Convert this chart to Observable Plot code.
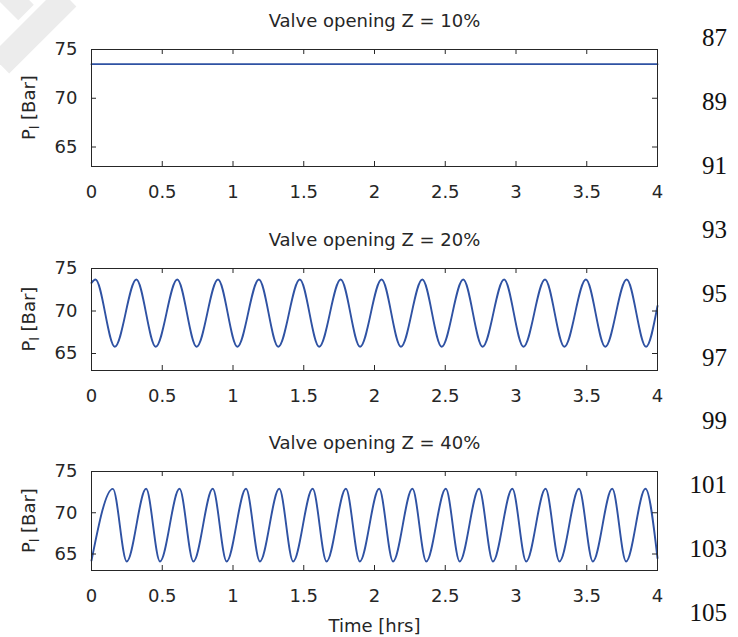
<!DOCTYPE html>
<html><head><meta charset="utf-8">
<script src="https://cdn.jsdelivr.net/npm/d3@7"></script>
<script src="https://cdn.jsdelivr.net/npm/@observablehq/plot@0.6"></script>
<style>
body{margin:0;background:#fff;}
#wrap{position:relative;width:738px;height:637px;overflow:hidden;font-family:"DejaVu Sans",sans-serif;background:#fff;}
.panel{position:absolute;left:0;}
.ln{position:absolute;right:11px;font-family:"Liberation Serif","Times New Roman",serif;font-size:25px;color:#111;line-height:1;transform:translateY(-50%);}
.wm{position:absolute;background:#ececec;transform-origin:0 0;}
</style></head><body><div id="wrap"></div>
<script>
// ---- data ----
const panelTitles = ["Valve opening Z = 10%", "Valve opening Z = 20%", "Valve opening Z = 40%"];
const xTicks = [0, 0.5, 1, 1.5, 2, 2.5, 3, 3.5, 4];
const yTicks = [65, 70, 75];
const xLabel = "Time [hrs]";
const lineNumbers = [87, 89, 91, 93, 95, 97, 99, 101, 103, 105];

// Z = 10%: constant
const z10Time = [0, 4];
const z10P = [73.5, 73.5];

// Z = 20%: extrema times (hrs) and levels (bar)
const z20Start = [0, 73.3];
const z20PeakTime = [0.028, 0.317, 0.606, 0.894, 1.183, 1.472, 1.761, 2.050, 2.338, 2.627, 2.916, 3.205, 3.494, 3.782];
const z20PeakP = 73.7;
const z20TroughTime = [0.165, 0.454, 0.743, 1.031, 1.320, 1.609, 1.898, 2.187, 2.475, 2.764, 3.053, 3.342, 3.631, 3.919];
const z20TroughP = 65.8;
const z20End = [4, 70.6];

// Z = 40%
const z40Start = [0, 64.2];
const z40PeakTime = [0.151, 0.386, 0.622, 0.857, 1.092, 1.327, 1.563, 1.798, 2.033, 2.268, 2.504, 2.739, 2.974, 3.209, 3.445, 3.680, 3.915];
const z40PeakP = 72.9;
const z40TroughTime = [0.249, 0.484, 0.720, 0.955, 1.190, 1.425, 1.661, 1.896, 2.131, 2.366, 2.602, 2.837, 3.072, 3.307, 3.543, 3.778];
const z40TroughP = 64.1;
const z40End = [4, 64.5];

// ---- build tables ----
function buildRows(start, peakT, peakP, troughT, troughP, end) {
  const rows = [{t: start[0], p: start[1]}];
  peakT.forEach(t => rows.push({t, p: peakP}));
  troughT.forEach(t => rows.push({t, p: troughP}));
  rows.push({t: end[0], p: end[1]});
  return rows.sort((a, b) => a.t - b.t);
}
const series = [
  z10Time.map((t, i) => ({t, p: z10P[i]})),
  buildRows(z20Start, z20PeakTime, z20PeakP, z20TroughTime, z20TroughP, z20End),
  buildRows(z40Start, z40PeakTime, z40PeakP, z40TroughTime, z40TroughP, z40End)
];

// ---- layout ----
const layout = [
  {top: 0,   height: 205, marginTop: 49, frameH: 117},
  {top: 205, height: 205, marginTop: 63, frameH: 102},
  {top: 410, height: 227, marginTop: 61, frameH: 99}
];
const INK = "#262626";
const FS = 18;
const frameW = 738 - 91 - 81;
const wrap = document.getElementById("wrap");

// faint watermark fragment
[["left:58px;top:-12px;width:26px;height:95px;transform:rotate(45deg);"],
 ["left:-10px;top:-8px;width:22px;height:40px;transform:rotate(-45deg);"]].forEach(([css]) => {
  const d = document.createElement("div"); d.className = "wm"; d.style.cssText = css; wrap.appendChild(d);
});

layout.forEach((cfg, i) => {
  const H = cfg.frameH;
  const marks = [
    Plot.line(series[i], {x: "t", y: "p", stroke: "#2f52a3", strokeWidth: 1.9, curve: "monotone-x"}),
    Plot.frame({stroke: INK}),
    Plot.tickX(xTicks, {x: d => d, insetTop: H - 5, stroke: INK}),
    Plot.tickX(xTicks, {x: d => d, insetBottom: H - 5, stroke: INK}),
    Plot.tickY(yTicks, {y: d => d, insetRight: frameW - 5, stroke: INK}),
    Plot.tickY(yTicks, {y: d => d, insetLeft: frameW - 5, stroke: INK}),
    Plot.axisX(xTicks, {tickSize: 0, tickPadding: 19, label: null, tickFormat: d => String(d), fill: INK}),
    Plot.axisY(yTicks, {tickSize: 0, tickPadding: 14, label: null, fill: INK}),
    Plot.text([panelTitles[i]], {frameAnchor: "top", lineAnchor: "middle", dy: -28, fontSize: FS, fill: INK})
  ];
  if (i === 2) marks.push(Plot.text([xLabel], {frameAnchor: "bottom", lineAnchor: "middle", dy: 56, fontSize: FS, fill: INK}));
  const plot = Plot.plot({
    width: 738, height: cfg.height,
    marginLeft: 91, marginRight: 81, marginTop: cfg.marginTop,
    marginBottom: cfg.height - cfg.marginTop - H,
    style: {fontFamily: "DejaVu Sans", fontSize: FS + "px", color: INK, background: "transparent", overflow: "visible"},
    x: {domain: [0, 4]},
    y: {domain: [63, 75]},
    marks
  });
  // y label with subscript
  const svg = d3.select(plot);
  const cy = cfg.marginTop + H / 2;
  const t = svg.append("text").attr("transform", `translate(35,${cy}) rotate(-90)`)
    .attr("text-anchor", "middle").attr("font-size", FS).attr("fill", INK).attr("font-family", "DejaVu Sans");
  t.append("tspan").text("P");
  t.append("tspan").attr("font-size", 12).attr("dy", 4).text("l");
  t.append("tspan").attr("dy", -4).text(" [Bar]");
  plot.classList.add("panel");
  plot.style.top = cfg.top + "px";
  wrap.appendChild(plot);
});

// line numbers at right margin
const lnTop = 37, lnStep = 63.9;
lineNumbers.forEach((n, k) => {
  const d = document.createElement("div");
  d.className = "ln"; d.textContent = n; d.style.top = (lnTop + k * lnStep) + "px";
  wrap.appendChild(d);
});
</script></body></html>
